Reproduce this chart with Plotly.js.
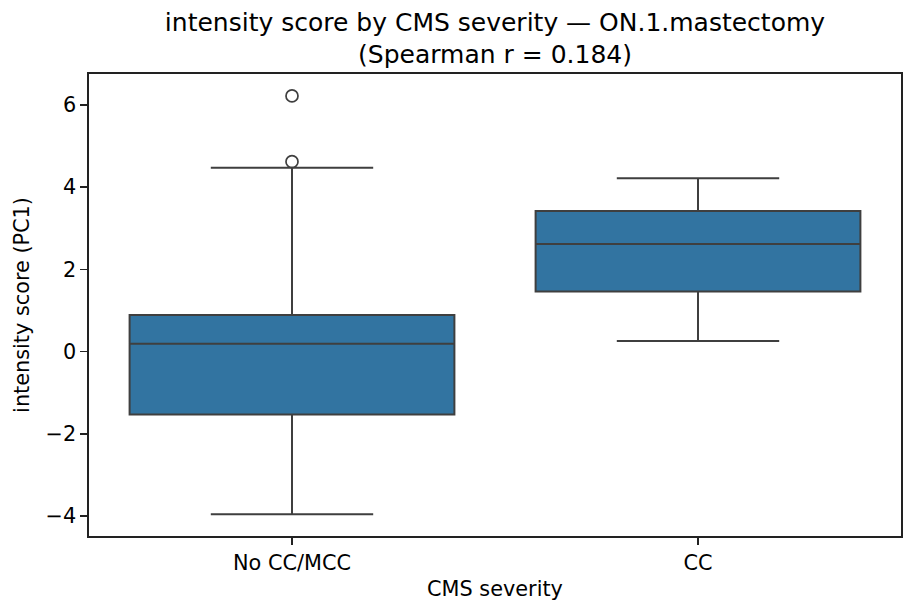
<!DOCTYPE html>
<html>
<head>
<meta charset="utf-8">
<script src="https://cdn.plot.ly/plotly-3.0.1.min.js"></script>
<style>
  html, body { margin: 0; padding: 0; background: #fff; }
  #chart { width: 917px; height: 614px; }
</style>
</head>
<body>
<div id="chart"></div>
<script>
// box stats
var categories = ['No CC/MCC', 'CC'];
var q1 = [-1.53, 1.46];
var median = [0.19, 2.62];
var q3 = [0.89, 3.42];
var lowerfence = [-3.96, 0.26];
var upperfence = [4.47, 4.22];

var outlierCat = ['No CC/MCC', 'No CC/MCC'];
var outlierVal = [4.62, 6.22];

var lineCol = '#3f3f3f';
var font = 'DejaVu Sans, sans-serif';

var boxes = {
  type: 'box',
  x: categories,
  q1: q1,
  median: median,
  q3: q3,
  lowerfence: lowerfence,
  upperfence: upperfence,
  boxpoints: false,
  width: 0.8,
  whiskerwidth: 0.5,
  fillcolor: '#3274a1',
  line: {color: lineCol, width: 2},
  hoverinfo: 'y',
  showlegend: false
};

var outliers = {
  type: 'scatter',
  mode: 'markers',
  x: outlierCat,
  y: outlierVal,
  marker: {
    symbol: 'circle-open',
    size: 12,
    color: lineCol,
    line: {width: 1.7, color: lineCol}
  },
  showlegend: false
};

var data = [boxes, outliers];
var layout = {
  width: 917,
  height: 614,
  paper_bgcolor: '#fff',
  plot_bgcolor: '#fff',
  font: {family: font, size: 20.8, color: '#000'},
  margin: {l: 89, r: 16, t: 74, b: 78},
  title: {
    text: 'intensity score by CMS severity — ON.1.mastectomy<br>(Spearman r = 0.184)',
    font: {family: font, size: 25, color: '#000'},
    x: 0.5, xref: 'paper',
    y: 0.95, yref: 'container', yanchor: 'top'
  },
  xaxis: {
    type: 'category',
    range: [-0.5, 1.5],
    title: {text: 'CMS severity', standoff: 8, font: {size: 20.8}},
    showline: true, mirror: true, linecolor: '#222', linewidth: 1.6,
    ticks: 'outside', ticklen: 7, tickwidth: 1.6, tickcolor: '#222',
    showgrid: false, zeroline: false,
    tickfont: {size: 20.8}
  },
  yaxis: {
    range: [-4.487, 6.754],
    tickvals: [-4, -2, 0, 2, 4, 6],
    ticktext: ['\u22124', '\u22122', '0', '2', '4', '6'],
    title: {text: 'intensity score (PC1)', standoff: 10, font: {size: 20.8}},
    showline: true, mirror: true, linecolor: '#222', linewidth: 1.6,
    ticks: 'outside', ticklen: 7, tickwidth: 1.6, tickcolor: '#222',
    showgrid: false, zeroline: false,
    tickfont: {size: 20.8}
  }
};

Plotly.newPlot('chart', data, layout, {displayModeBar: false, staticPlot: true});
</script>
</body>
</html>
